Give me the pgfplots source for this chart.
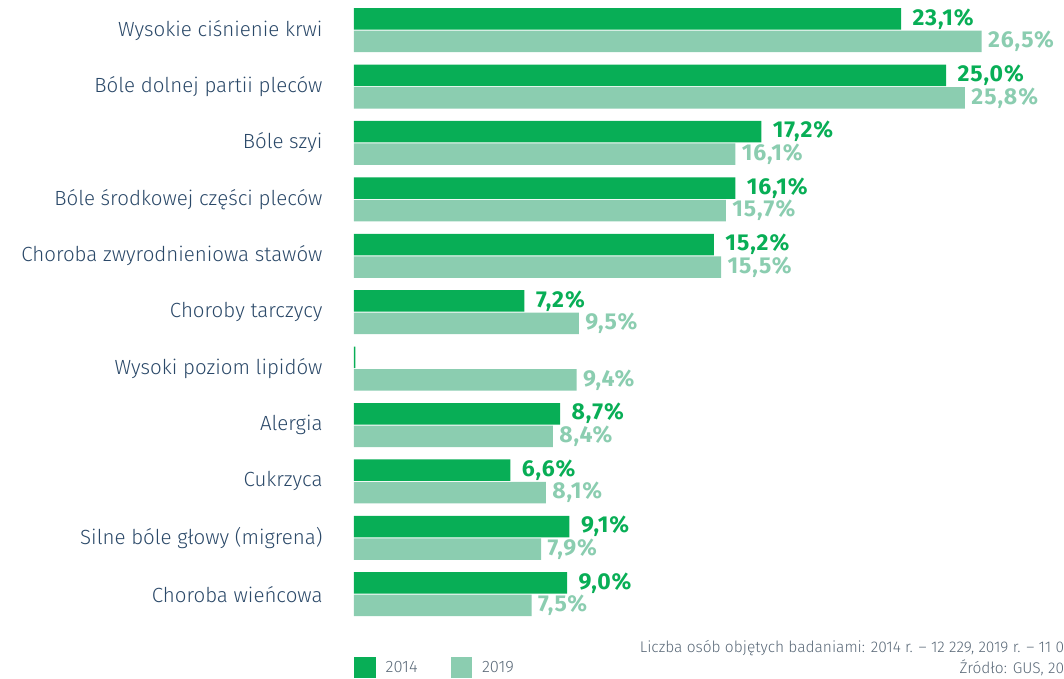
\documentclass[border=0pt]{standalone}
\usepackage{fontspec}
\setmainfont{Fira Sans Light}[BoldFont={Fira Sans Bold}]
\newfontfamily\valfont{Fira Sans Bold}[LetterSpace=4]
\usepackage{pgfplots}
\pgfplotsset{compat=1.18}
\definecolor{c14}{RGB}{8,174,86}
\definecolor{c19}{RGB}{139,205,176}
\definecolor{lab}{RGB}{42,72,104}
\definecolor{foot}{RGB}{90,105,120}
\begin{document}
\begin{tikzpicture}
\begin{axis}[
    at={(0,0)}, anchor=south west,
    scale only axis, clip=false,
    width=710.4pt, height=620.4pt,
    xmin=0, xmax=30,
    ymin=-0.5, ymax=10.5,
    xbar, bar width=21.5pt,
    axis line style={draw=none},
    tick style={draw=none},
    xtick=\empty,
    ytick={0,...,10},
    yticklabels={Choroba wieńcowa, Silne bóle głowy (migrena), Cukrzyca, Alergia,
        Wysoki poziom lipidów, Choroby tarczycy, Choroba zwyrodnieniowa stawów,
        Bóle środkowej części pleców, Bóle szyi, Bóle dolnej partii pleców,
        Wysokie ciśnienie krwi},
    yticklabel style={font=\fontsize{20.5}{24}\selectfont, text=lab, anchor=east, inner sep=0pt, xshift=-27pt},
    point meta=explicit symbolic,
    legend columns=2,
    legend style={draw=none, fill=none, inner sep=0pt,
        at={(axis description cs:0,0)}, anchor=west, yshift=-45pt,
        font=\fontsize{16.5}{19}\selectfont\color{foot},
        /tikz/every odd column/.style={column sep=10pt},
        /tikz/every even column/.style={column sep=33pt},
        nodes={inner sep=0pt}},
    legend image code/.code={\fill[#1] (0pt,-10.75pt) rectangle (21.5pt,10.75pt);},
]
\addplot[fill=c14, draw=none, bar shift=11.25pt,
    nodes near coords, nodes near coords style={text=c14, font=\fontsize{23}{26}\valfont, anchor=west, xshift=8pt}]
    coordinates {
    (23.1,10) [23,1\%]
    (25.0,9) [25,0\%]
    (17.2,8) [17,2\%]
    (16.1,7) [16,1\%]
    (15.2,6) [15,2\%]
    (7.2,5) [7,2\%]
    (0.06,4) []
    (8.7,3) [8,7\%]
    (6.6,2) [6,6\%]
    (9.1,1) [9,1\%]
    (9.0,0) [9,0\%]
};
\addplot[fill=c19, draw=none, bar shift=-11.25pt,
    nodes near coords, nodes near coords style={text=c19, font=\fontsize{23}{26}\valfont, anchor=west, xshift=3pt}]
    coordinates {
    (26.5,10) [26,5\%]
    (25.8,9) [25,8\%]
    (16.1,8) [16,1\%]
    (15.7,7) [15,7\%]
    (15.5,6) [15,5\%]
    (9.5,5) [9,5\%]
    (9.4,4) [9,4\%]
    (8.4,3) [8,4\%]
    (8.1,2) [8,1\%]
    (7.9,1) [7,9\%]
    (7.5,0) [7,5\%]
};
\legend{2014, 2019}
\node[anchor=east, inner sep=0pt, text=foot, font=\fontsize{15.5}{18}\selectfont, yshift=-26pt]
    at (rel axis cs:1,0) {Liczba osób objętych badaniami: 2014 r. – 12 229, 2019 r. – 11 0};
\node[anchor=east, inner sep=0pt, text=foot, font=\fontsize{15.5}{18}\selectfont, yshift=-45pt]
    at (rel axis cs:1,0) {Źródło: GUS, 20};
\end{axis}
\pgfresetboundingbox
\path[use as bounding box] (-354pt,-55.6pt) rectangle (710pt,622.4pt);
\end{tikzpicture}
\end{document}
